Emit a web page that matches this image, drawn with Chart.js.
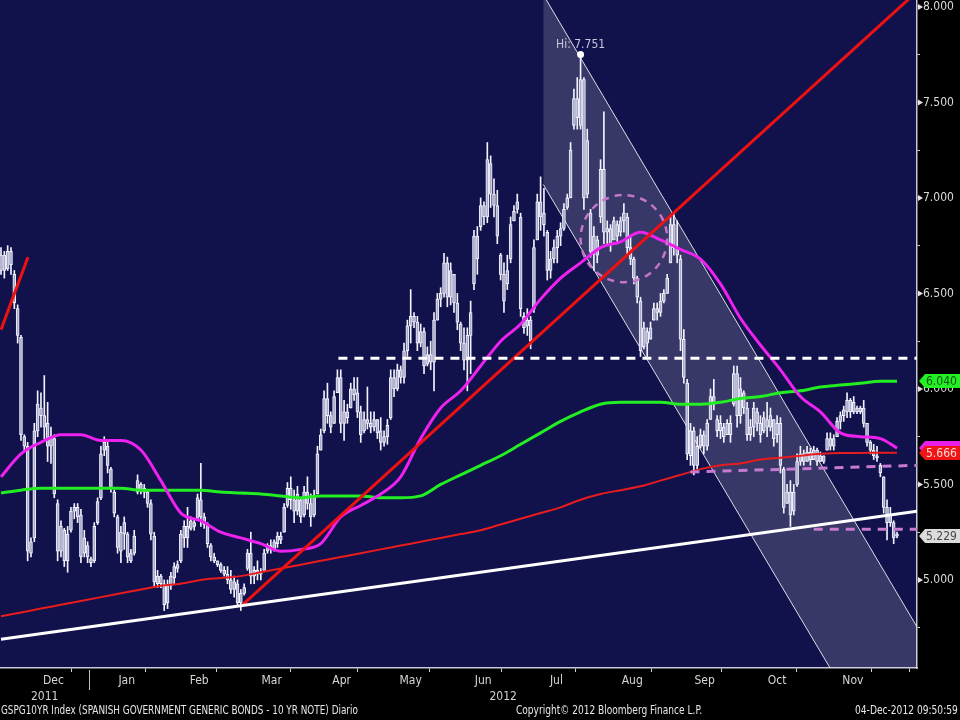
<!DOCTYPE html>
<html>
<head>
<meta charset="utf-8">
<script src="https://cdn.jsdelivr.net/npm/chart.js@4.4.0/dist/chart.umd.min.js"></script>
<style>
  html, body { margin: 0; padding: 0; background: #000; }
  #wrap { position: relative; width: 960px; height: 720px; overflow: hidden; }
  canvas { display: block; }
  .foot { position: absolute; top: 703px; font: 12px 'Liberation Sans Narrow', 'DejaVu Sans Condensed', Arial, sans-serif; color: #e6e6e6; white-space: nowrap; transform-origin: 0 0; }
</style>
</head>
<body>
<div id="wrap">
  <canvas id="chart" width="960" height="720"></canvas>
  <div class="foot" data-x="1" data-w="357">GSPG10YR Index (SPANISH GOVERNMENT GENERIC BONDS - 10 YR NOTE) Diario</div>
  <div class="foot" data-x="516" data-w="186">Copyright© 2012 Bloomberg Finance L.P.</div>
  <div class="foot" data-x="855" data-w="103">04-Dec-2012 09:50:59</div>
</div>
<script>
// ---- daily bars, 24-Nov-2011 .. 04-Dec-2012 (index = trading day) ----
const opens = [
  6.62,6.70,6.63,6.72,6.60,6.42,6.27,5.75,5.70,5.14,
  5.22,5.78,5.90,5.86,5.82,5.70,5.74,5.40,5.15,5.26,
  5.10,5.26,5.36,5.38,5.34,5.14,5.18,5.11,5.10,5.30,
  5.43,5.68,5.70,5.58,5.46,5.33,5.15,5.24,5.24,5.14,
  5.14,5.46,5.50,5.46,5.46,5.40,5.23,4.98,5.02,4.98,
  4.88,4.97,5.01,5.06,5.10,5.22,5.28,5.27,5.30,5.32,
  5.42,5.33,5.29,5.18,5.12,5.10,5.08,5.05,5.03,5.00,
  4.95,4.98,4.88,4.93,5.06,5.14,5.02,5.05,5.03,5.05,
  5.15,5.18,5.16,5.19,5.23,5.25,5.39,5.48,5.42,5.36,
  5.42,5.34,5.46,5.40,5.34,5.45,5.68,5.78,5.95,5.86,
  5.82,5.98,6.06,5.82,5.88,5.90,6.00,5.98,5.88,5.78,
  5.84,5.82,5.80,5.84,5.78,5.72,5.75,5.85,6.06,6.00,
  6.10,6.06,6.20,6.33,6.38,6.35,6.24,6.30,6.13,6.18,
  6.14,6.36,6.47,6.50,6.66,6.48,6.60,6.45,6.34,6.24,
  6.15,6.28,6.55,6.80,6.85,6.96,6.90,7.18,7.02,6.96,
  6.70,6.60,6.55,6.68,6.88,6.94,6.90,6.38,6.33,6.36,
  6.42,6.78,6.98,6.92,6.82,6.62,6.68,6.74,6.80,6.84,
  6.95,7.00,7.38,7.52,7.38,7.62,7.02,6.92,6.72,6.78,
  6.90,7.15,6.82,6.84,6.78,6.86,6.82,6.88,6.90,6.74,
  6.68,6.58,6.46,6.22,6.30,6.26,6.36,6.42,6.40,6.46,
  6.50,6.66,6.86,6.74,6.68,6.26,6.03,5.65,5.78,5.60,
  5.70,5.76,5.70,5.84,5.96,5.84,5.78,5.80,5.76,5.82,
  5.92,6.08,5.86,5.98,5.90,5.76,5.80,5.88,5.82,5.78,
  5.84,5.80,5.84,5.76,5.82,5.58,5.40,5.46,5.36,5.50,
  5.62,5.66,5.62,5.67,5.63,5.68,5.62,5.65,5.68,5.74,
  5.70,5.75,5.83,5.86,5.88,5.94,5.88,5.90,5.88,5.90,
  5.82,5.72,5.68,5.65,5.60,5.54,5.38,5.30,5.30,5.24
];
const highs = [
  6.74,6.72,6.75,6.74,6.62,6.44,6.28,5.76,5.72,5.22,
  5.82,5.99,5.98,6.07,5.93,5.80,5.76,5.42,5.31,5.27,
  5.28,5.38,5.40,5.40,5.37,5.26,5.20,5.12,5.30,5.43,
  5.70,5.75,5.73,5.59,5.47,5.34,5.28,5.33,5.25,5.16,
  5.26,5.55,5.51,5.50,5.47,5.42,5.25,5.05,5.03,5.00,
  5.00,5.04,5.09,5.10,5.26,5.31,5.38,5.33,5.32,5.45,
  5.61,5.35,5.30,5.19,5.14,5.10,5.09,5.07,5.07,5.05,
  5.02,5.00,4.95,4.98,5.16,5.25,5.07,5.10,5.06,5.16,
  5.19,5.21,5.21,5.25,5.25,5.40,5.51,5.54,5.47,5.49,
  5.43,5.49,5.54,5.45,5.47,5.70,5.79,5.99,6.03,5.88,
  5.99,6.10,6.10,5.94,5.92,6.03,6.06,6.06,5.91,5.88,
  6.01,5.88,5.88,5.84,5.85,5.78,5.84,6.10,6.10,6.13,
  6.12,6.24,6.36,6.52,6.40,6.38,6.34,6.32,6.22,6.25,
  6.40,6.50,6.53,6.71,6.69,6.66,6.60,6.50,6.35,6.32,
  6.32,6.46,6.83,6.85,7.00,6.98,7.29,7.22,7.10,7.04,
  6.71,6.66,6.70,6.90,6.96,7.02,6.92,6.40,6.42,6.38,
  6.78,7.02,7.11,7.05,6.83,6.72,6.78,6.83,6.87,6.97,
  7.02,7.29,7.57,7.63,7.751,7.63,7.36,6.94,6.85,6.80,
  7.20,7.45,6.88,6.86,6.90,6.88,6.90,6.97,6.92,6.80,
  6.69,6.59,6.48,6.35,6.32,6.35,6.45,6.45,6.50,6.52,
  6.60,6.90,6.92,6.88,6.70,6.31,6.05,5.82,5.80,5.75,
  5.79,5.78,5.84,6.00,6.05,5.86,5.86,5.82,5.84,5.86,
  6.12,6.12,6.06,5.99,5.93,5.84,5.93,5.90,5.86,5.88,
  5.93,5.90,5.84,5.86,5.85,5.59,5.50,5.52,5.50,5.66,
  5.70,5.68,5.70,5.69,5.70,5.69,5.67,5.65,5.77,5.77,
  5.76,5.85,5.88,5.91,5.98,5.95,5.96,5.91,5.91,5.94,
  5.82,5.73,5.71,5.70,5.61,5.54,5.42,5.38,5.31,5.25
];
const lows = [
  6.60,6.58,6.62,6.60,6.42,6.24,5.73,5.68,5.10,5.12,
  5.20,5.75,5.80,5.74,5.62,5.61,5.43,5.10,5.12,5.07,
  5.04,5.25,5.32,5.30,5.09,5.12,5.09,5.07,5.09,5.29,
  5.42,5.65,5.56,5.46,5.33,5.14,5.09,5.16,5.09,5.09,
  5.13,5.45,5.45,5.43,5.38,5.21,4.96,4.96,4.96,4.84,
  4.85,4.95,4.98,5.04,5.09,5.17,5.17,5.26,5.26,5.31,
  5.28,5.27,5.17,5.10,5.09,5.07,5.04,5.02,4.98,4.93,
  4.91,4.86,4.84,4.92,5.05,4.98,4.98,5.00,5.00,5.05,
  5.14,5.14,5.15,5.17,5.19,5.25,5.38,5.37,5.30,5.34,
  5.30,5.33,5.37,5.28,5.33,5.45,5.68,5.77,5.82,5.77,
  5.82,5.98,5.77,5.73,5.82,5.90,5.94,5.85,5.72,5.77,
  5.79,5.77,5.78,5.74,5.68,5.70,5.71,5.84,5.96,5.99,
  6.03,6.03,6.17,6.24,6.32,6.20,6.22,6.08,6.12,6.10,
  5.99,6.36,6.43,6.48,6.43,6.44,6.40,6.31,6.20,6.10,
  5.99,6.08,6.52,6.60,6.83,6.86,6.87,6.95,6.90,6.76,
  6.57,6.40,6.52,6.66,6.88,6.92,6.38,6.29,6.28,6.21,
  6.40,6.78,6.83,6.80,6.57,6.58,6.66,6.66,6.75,6.83,
  6.94,7.00,7.36,7.36,7.36,6.94,7.00,6.69,6.62,6.66,
  6.87,6.76,6.76,6.72,6.78,6.76,6.80,6.82,6.70,6.65,
  6.55,6.45,6.17,6.21,6.17,6.26,6.36,6.36,6.38,6.45,
  6.50,6.66,6.70,6.66,6.20,6.03,5.63,5.60,5.55,5.58,
  5.69,5.66,5.68,5.84,5.89,5.75,5.74,5.72,5.76,5.72,
  5.91,5.80,5.82,5.87,5.73,5.73,5.75,5.78,5.72,5.77,
  5.75,5.78,5.70,5.72,5.56,5.35,5.40,5.28,5.34,5.49,
  5.60,5.60,5.62,5.60,5.63,5.60,5.62,5.61,5.68,5.68,
  5.68,5.75,5.79,5.83,5.85,5.85,5.87,5.87,5.87,5.80,
  5.70,5.66,5.63,5.62,5.54,5.35,5.21,5.28,5.19,5.22
];
const closes = [
  6.70,6.62,6.72,6.65,6.45,6.28,5.76,5.70,5.15,5.20,
  5.78,5.92,5.86,5.80,5.70,5.75,5.45,5.15,5.28,5.10,
  5.24,5.36,5.38,5.33,5.12,5.22,5.12,5.09,5.28,5.41,
  5.66,5.72,5.60,5.48,5.35,5.17,5.25,5.30,5.12,5.10,
  5.23,5.52,5.47,5.48,5.40,5.24,4.99,5.02,4.98,4.87,
  4.97,5.02,5.07,5.08,5.24,5.28,5.22,5.31,5.28,5.43,
  5.33,5.29,5.19,5.12,5.10,5.08,5.05,5.03,5.00,4.95,
  4.99,4.88,4.93,4.96,5.14,5.02,5.05,5.03,5.04,5.14,
  5.18,5.16,5.20,5.23,5.21,5.38,5.48,5.42,5.36,5.45,
  5.33,5.46,5.40,5.33,5.44,5.66,5.76,5.95,5.86,5.80,
  5.96,6.06,5.82,5.88,5.85,6.00,5.97,5.88,5.76,5.84,
  5.82,5.80,5.84,5.77,5.72,5.75,5.81,6.06,6.00,6.10,
  6.06,6.20,6.33,6.38,6.35,6.24,6.30,6.12,6.18,6.14,
  6.36,6.47,6.50,6.66,6.48,6.62,6.45,6.35,6.24,6.15,
  6.28,6.40,6.80,6.68,6.96,6.90,7.20,7.02,6.96,6.80,
  6.60,6.46,6.62,6.86,6.93,6.98,6.42,6.32,6.36,6.25,
  6.74,6.98,6.90,6.86,6.62,6.68,6.74,6.80,6.84,6.94,
  7.00,7.25,7.52,7.42,7.62,7.00,7.30,6.72,6.80,6.70,
  7.15,6.82,6.84,6.76,6.88,6.80,6.88,6.92,6.74,6.68,
  6.58,6.48,6.20,6.32,6.24,6.32,6.42,6.40,6.46,6.50,
  6.58,6.86,6.74,6.70,6.26,6.06,5.66,5.78,5.60,5.70,
  5.76,5.70,5.82,5.96,5.92,5.78,5.82,5.75,5.82,5.76,
  6.08,5.86,6.00,5.90,5.76,5.80,5.90,5.82,5.76,5.85,
  5.80,5.86,5.74,5.82,5.60,5.38,5.46,5.34,5.46,5.62,
  5.66,5.62,5.67,5.63,5.68,5.62,5.65,5.62,5.74,5.70,
  5.74,5.83,5.86,5.89,5.94,5.88,5.93,5.88,5.90,5.82,
  5.72,5.68,5.65,5.64,5.56,5.38,5.30,5.34,5.22,5.229
];

// ---- moving averages at these bar indexes ----
const maIdx = [0,6,12,18,24,30,36,42,48,54,60,66,72,78,84,90,96,102,108,114,120,126,132,138,144,150,156,162,168,174,180,186,192,198,204,210,216,222,228,234,240,246,252,258,264,269];
const maPink = [5.54,5.66,5.72,5.76,5.76,5.73,5.73,5.68,5.52,5.35, 5.31,5.25,5.22,5.19,5.15,5.16,5.19,5.33,5.39,5.45, 5.54,5.74,5.90,5.99,6.12,6.25,6.34,6.47,6.58,6.66, 6.74,6.77,6.82,6.78,6.73,6.68,6.55,6.37,6.23,6.10, 5.96,5.88,5.77,5.75,5.74,5.69];
const maGreen = [5.455,5.47,5.48,5.48,5.48,5.48,5.48,5.47,5.47,5.47, 5.47,5.46,5.455,5.45,5.44,5.43,5.44,5.44,5.44,5.43, 5.43,5.44,5.50,5.55,5.60,5.65,5.71,5.77,5.83,5.88, 5.92,5.93,5.93,5.93,5.92,5.92,5.93,5.95,5.96,5.98, 5.99,6.01,6.02,6.03,6.04,6.04];
const maRed = [4.81,4.83,4.85,4.87,4.89,4.91,4.93,4.95,4.97,4.98, 5.00,5.01,5.02,5.04,5.06,5.08,5.10,5.12,5.14,5.16, 5.18,5.20,5.22,5.24,5.26,5.29,5.32,5.35,5.38,5.42, 5.45,5.47,5.49,5.52,5.55,5.58,5.60,5.61,5.63,5.64, 5.65,5.66,5.665,5.665,5.666,5.666];

// ---- drawn studies: [barIndex, yield] ----
const redTrendA = [[0, 6.31], [8.1, 6.69]];
const redTrendB = [[72.5, 4.87], [275, 8.08]];
const whiteTrend = [[0, 4.69], [275, 5.36]];
const whiteDash = [[101.3, 6.16], [275, 6.16]];
const pinkDashHi = [[207, 5.565], [275, 5.60]];
const pinkDashLo = [[244, 5.265], [275, 5.265]];
const chanUpper = [[163.7, 8.037], [275, 4.754]];
const chanLower = [[162.8, 7.07], [248.9, 4.539]];
const circleCenter = [187, 6.787];
const circleRadius = [13, 0.228];

// ---- axes ----
const xMin = -0.3, xMax = 275;
const yMin = 4.539, yMax = 8.036;
const yTicks = [4.75, 5, 5.25, 5.5, 5.75, 6, 6.25, 6.5, 6.75, 7, 7.25, 7.5, 7.75, 8];
const monthNames = ['Dec','Jan','Feb','Mar','Apr','May','Jun','Jul','Aug','Sep','Oct','Nov'];
const monthStarts = [5, 26.5, 49, 70, 92.5, 112, 134, 155.5, 178, 201, 221.5, 244.5, 267];

const FONT = "'Liberation Sans Narrow', 'DejaVu Sans Condensed', Arial, sans-serif";
const pts = arr => arr.map(([x, y]) => ({ x, y }));
const last = arr => arr[arr.length - 1];
const hiVal = Math.max(...highs);
const hiIdx = highs.indexOf(hiVal);

function lineSet(data, color, width, order, dash) {
    return {
        type: 'line', data, borderColor: color, borderWidth: width,
        borderDash: dash || [], pointRadius: 0, fill: false, order
    };
}
function maSet(values, color, width, order) {
    const ds = lineSet(maIdx.map((x, k) => ({ x, y: values[k] })), color, width, order);
    ds.cubicInterpolationMode = 'monotone';
    return ds;
}

// footer texts squeezed to the width they take in the Bloomberg screen
document.querySelectorAll('.foot').forEach(el => {
    el.style.left = el.dataset.x + 'px';
    const k = Number(el.dataset.w) / el.scrollWidth;
    el.style.transform = 'scaleX(' + k.toFixed(3) + ')';
});

const bbgExtras = {
    id: 'bbgExtras',
    beforeDraw(chart) {
        const { ctx, chartArea: a } = chart;
        ctx.save();
        ctx.fillStyle = '#000';
        ctx.fillRect(0, 0, chart.width, chart.height);
        ctx.fillStyle = '#11114c';
        ctx.fillRect(a.left, a.top, a.right - a.left, a.bottom - a.top);
        ctx.restore();
    },
    afterDatasetsDraw(chart) {
        const { ctx, scales: { x, y } } = chart;
        const cx = x.getPixelForValue(circleCenter[0]);
        const cy = y.getPixelForValue(circleCenter[1]);
        const rx = Math.abs(x.getPixelForValue(circleCenter[0] + circleRadius[0]) - cx);
        const ry = Math.abs(y.getPixelForValue(circleCenter[1] + circleRadius[1]) - cy);
        ctx.save();
        ctx.setLineDash([7, 6]);
        ctx.strokeStyle = '#c476c8';
        ctx.lineWidth = 2.5;
        ctx.beginPath();
        ctx.ellipse(cx, cy, rx, ry, 0, 0, Math.PI * 2);
        ctx.stroke();
        ctx.setLineDash([]);
        ctx.fillStyle = '#c8c8da';
        ctx.font = '12px ' + FONT;
        ctx.textAlign = 'center';
        ctx.textBaseline = 'bottom';
        ctx.fillText('Hi: ' + hiVal.toFixed(3), x.getPixelForValue(hiIdx), y.getPixelForValue(hiVal) - 4);
        ctx.restore();
    },
    afterDraw(chart) {
        const { ctx, chartArea: a, scales: { x, y } } = chart;
        ctx.save();
        // triangles on the major ticks
        ctx.fillStyle = '#e4e4e4';
        yTicks.filter(v => Math.abs(v * 2 - Math.round(v * 2)) < 1e-6).forEach(v => {
            const py = y.getPixelForValue(v);
            ctx.beginPath();
            ctx.moveTo(a.right + 1, py - 3);
            ctx.lineTo(a.right + 6, py);
            ctx.lineTo(a.right + 1, py + 3);
            ctx.closePath();
            ctx.fill();
        });
        // last value tags (the pink one sits under the red one)
        const tags = [
            { v: last(maPink), bg: '#e81ee8', fg: null },
            { v: last(maGreen), bg: '#22f022', fg: '#145214' },
            { v: last(maRed), bg: '#f01414', fg: '#ffd8d8' },
            { v: last(closes), bg: '#dcdcdc', fg: '#484848' }
        ];
        ctx.font = '12px ' + FONT;
        ctx.textAlign = 'left';
        ctx.textBaseline = 'middle';
        tags.forEach(t => {
            const py = Math.round(y.getPixelForValue(t.v));
            const x0 = a.right + 2;
            ctx.fillStyle = t.bg;
            ctx.beginPath();
            ctx.moveTo(x0, py);
            ctx.lineTo(x0 + 6, py - 7);
            ctx.lineTo(chart.width, py - 7);
            ctx.lineTo(chart.width, py + 7);
            ctx.lineTo(x0 + 6, py + 7);
            ctx.closePath();
            ctx.fill();
            if (t.fg) {
                ctx.fillStyle = t.fg;
                ctx.fillText(t.v.toFixed(3), x0 + 7, py + 1);
            }
        });
        // year row
        ctx.fillStyle = '#d4d4d4';
        ctx.textAlign = 'center';
        ctx.fillText('2011', x.getPixelForValue((xMin + monthStarts[1]) / 2), 697);
        ctx.fillText('2012', x.getPixelForValue((monthStarts[1] + xMax) / 2), 697);
        ctx.strokeStyle = '#bdbdbd';
        ctx.lineWidth = 1;
        const sx = Math.round(x.getPixelForValue(monthStarts[1])) + 0.5;
        ctx.beginPath();
        ctx.moveTo(sx, a.bottom + 2);
        ctx.lineTo(sx, 690);
        ctx.stroke();
        ctx.restore();
    }
};

const bars = highs.map((h, i) => ({ x: i, y: [lows[i], h] }));
const bodies = opens.map((o, i) => ({ x: i, y: [o, closes[i]] }));

new Chart(document.getElementById('chart'), {
    type: 'bar',
    data: {
        datasets: [
            // channel shading (filled to the next dataset)
            {
                type: 'line', order: 10, pointRadius: 0, borderWidth: 0,
                data: pts([[chanLower[0][0], yMax], ...chanUpper]),
                fill: '+1', backgroundColor: 'rgba(255,255,255,0.16)'
            },
            {
                type: 'line', order: 10, pointRadius: 0, borderWidth: 0, fill: false,
                data: pts([...chanLower, [xMax, yMin]])
            },
            lineSet(pts(chanUpper), 'rgba(255,255,255,0.85)', 1, 9),
            lineSet(pts(chanLower), 'rgba(255,255,255,0.85)', 1, 9),
            {
                data: bars, barThickness: 1, grouped: false, order: 8,
                backgroundColor: '#f2f2ff', borderWidth: 0
            },
            {
                data: bodies, barThickness: 3, grouped: false, order: 7,
                backgroundColor: '#a9a9c9', borderColor: '#f4f4ff', borderWidth: 1, borderSkipped: false
            },
            maSet(maRed, '#e81c1c', 2, 6),
            maSet(maGreen, '#22ee22', 3, 5),
            maSet(maPink, '#ee22ee', 3, 4),
            lineSet(pts(whiteTrend), '#ffffff', 3, 3),
            lineSet(pts(redTrendA), '#ee1111', 3, 3),
            lineSet(pts(redTrendB), '#ee1111', 3, 3),
            lineSet(pts(whiteDash), '#ffffff', 3, 2, [9, 7]),
            lineSet(pts(pinkDashHi), '#c67ad0', 3, 2, [9, 7]),
            lineSet(pts(pinkDashLo), '#c67ad0', 3, 2, [9, 7]),
            {
                type: 'line', order: 1, showLine: false,
                data: [{ x: hiIdx, y: hiVal }],
                pointRadius: 3.5, pointBackgroundColor: '#ffffff', pointBorderWidth: 0
            }
        ]
    },
    options: {
        responsive: false,
        animation: false,
        layout: { padding: 0, autoPadding: false },
        plugins: { legend: { display: false }, tooltip: { enabled: false } },
        scales: {
            x: {
                type: 'linear', min: xMin, max: xMax, offset: false,
                afterBuildTicks(scale) {
                    const t = [];
                    monthStarts.forEach((v, k) => {
                        t.push({ value: v });
                        if (k < monthNames.length) t.push({ value: (v + monthStarts[k + 1]) / 2 });
                    });
                    scale.ticks = t;
                },
                afterFit(scale) {
                    scale.height = 52;
                    scale.paddingLeft = 0;
                    scale.paddingRight = 0;
                },
                ticks: {
                    autoSkip: false, maxRotation: 0, padding: 2, color: '#d6d6d6',
                    font: { family: FONT, size: 12 },
                    callback: (v, i) => (i % 2 ? monthNames[(i - 1) / 2] : '')
                },
                grid: {
                    drawOnChartArea: false, tickLength: 4,
                    tickColor: c => (c.index % 2 ? 'rgba(0,0,0,0)' : '#d0d0d0')
                },
                border: { display: true, color: '#c8c8d8', width: 1.5 }
            },
            y: {
                type: 'linear', position: 'right', min: yMin, max: yMax,
                afterBuildTicks(scale) {
                    scale.ticks = yTicks.map(v => ({ value: v }));
                },
                afterFit(scale) {
                    scale.width = 43;
                    scale.paddingTop = 0;
                    scale.paddingBottom = 0;
                },
                ticks: {
                    padding: 3, color: '#dadada',
                    font: { family: FONT, size: 12 },
                    callback: v => (Math.abs(v * 2 - Math.round(v * 2)) < 1e-6 ? v.toFixed(3) : '')
                },
                grid: { drawOnChartArea: false, tickLength: 3, tickColor: '#d0d0d0' },
                border: { display: true, color: '#c8c8d8', width: 1.5 }
            }
        }
    },
    plugins: [bbgExtras]
});
</script>
</body>
</html>
